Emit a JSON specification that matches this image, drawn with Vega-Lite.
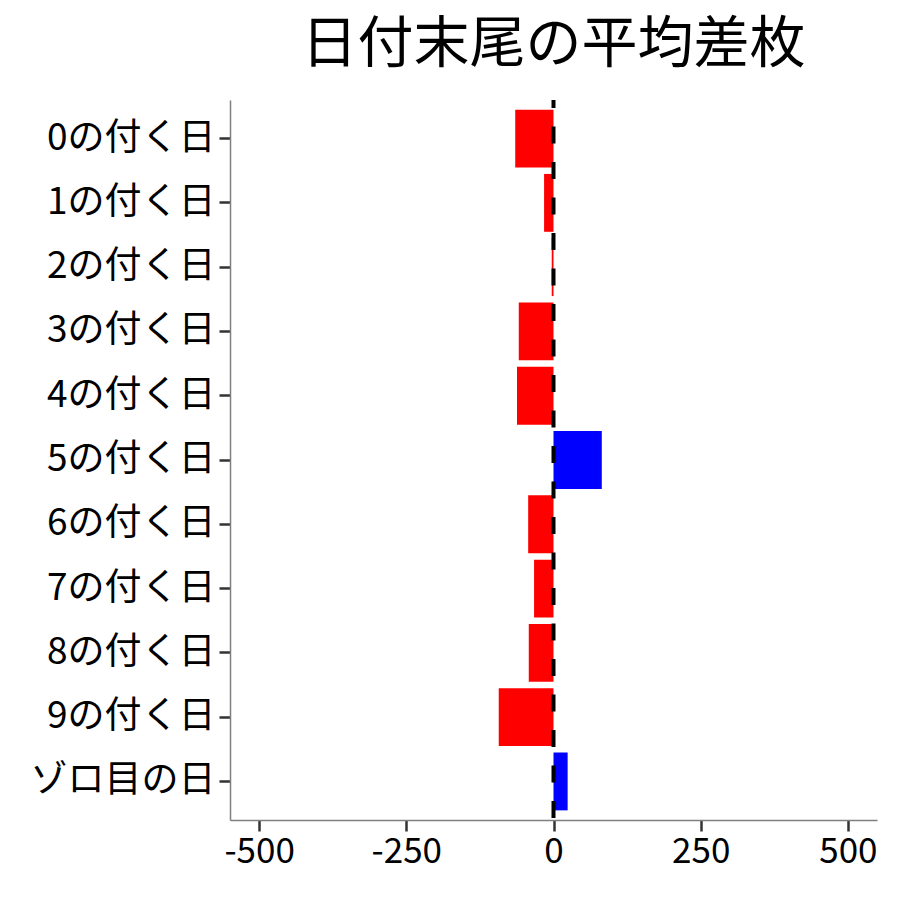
{
  "$schema": "https://vega.github.io/schema/vega-lite/v6.json",
  "autosize": {"type": "none"},
  "padding": {"left": 230, "top": 100, "right": 23, "bottom": 80},
  "width": 647,
  "height": 720,
  "background": "white",
  "title": {
    "text": "日付末尾の平均差枚",
    "font": "Noto Sans CJK JP",
    "fontSize": 56,
    "fontWeight": "normal",
    "color": "black",
    "anchor": "middle",
    "offset": 24
  },
  "config": {
    "view": {"stroke": null},
    "font": "Noto Sans CJK JP"
  },
  "data": {
    "values": [
      {"日": "0の付く日", "差枚": -65},
      {"日": "1の付く日", "差枚": -16},
      {"日": "2の付く日", "差枚": -3},
      {"日": "3の付く日", "差枚": -59},
      {"日": "4の付く日", "差枚": -62},
      {"日": "5の付く日", "差枚": 82},
      {"日": "6の付く日", "差枚": -43},
      {"日": "7の付く日", "差枚": -33},
      {"日": "8の付く日", "差枚": -42},
      {"日": "9の付く日", "差枚": -93},
      {"日": "ゾロ目の日", "差枚": 24}
    ]
  },
  "layer": [
    {
      "mark": {"type": "bar"},
      "encoding": {
        "y": {
          "field": "日",
          "type": "nominal",
          "sort": null,
          "scale": {"paddingInner": 0.1, "paddingOuter": 0.15},
          "axis": {
            "title": null,
            "labelFont": "Noto Sans CJK JP",
            "labelFontSize": 37,
            "labelColor": "black",
            "labelPadding": 4,
            "labelLimit": 400,
            "tickSize": 11,
            "tickWidth": 2.5,
            "tickColor": "#333333",
            "domainColor": "#7f7f7f",
            "domainWidth": 1.5,
            "grid": false
          }
        },
        "x": {
          "field": "差枚",
          "type": "quantitative",
          "scale": {"domain": [-549.4, 549.4], "nice": false, "zero": false},
          "axis": {
            "title": null,
            "values": [-500, -250, 0, 250, 500],
            "labelExpr": "'' + datum.value",
            "labelFont": "Noto Sans CJK JP",
            "labelFontSize": 35,
            "labelColor": "black",
            "labelPadding": 3,
            "labelFlush": false,
            "tickSize": 11,
            "tickWidth": 2.5,
            "tickColor": "#333333",
            "domainColor": "#7f7f7f",
            "domainWidth": 1.5,
            "grid": false
          }
        },
        "x2": {"datum": 0},
        "color": {
          "condition": {"test": "datum['差枚'] < 0", "value": "#ff0000"},
          "value": "#0000ff"
        }
      }
    },
    {
      "data": {"values": [{"基準": 0}]},
      "mark": {"type": "rule", "color": "black", "strokeWidth": 4, "strokeDash": [17, 18.5], "strokeDashOffset": 9},
      "encoding": {
        "x": {"field": "基準", "type": "quantitative"}
      }
    }
  ]
}
